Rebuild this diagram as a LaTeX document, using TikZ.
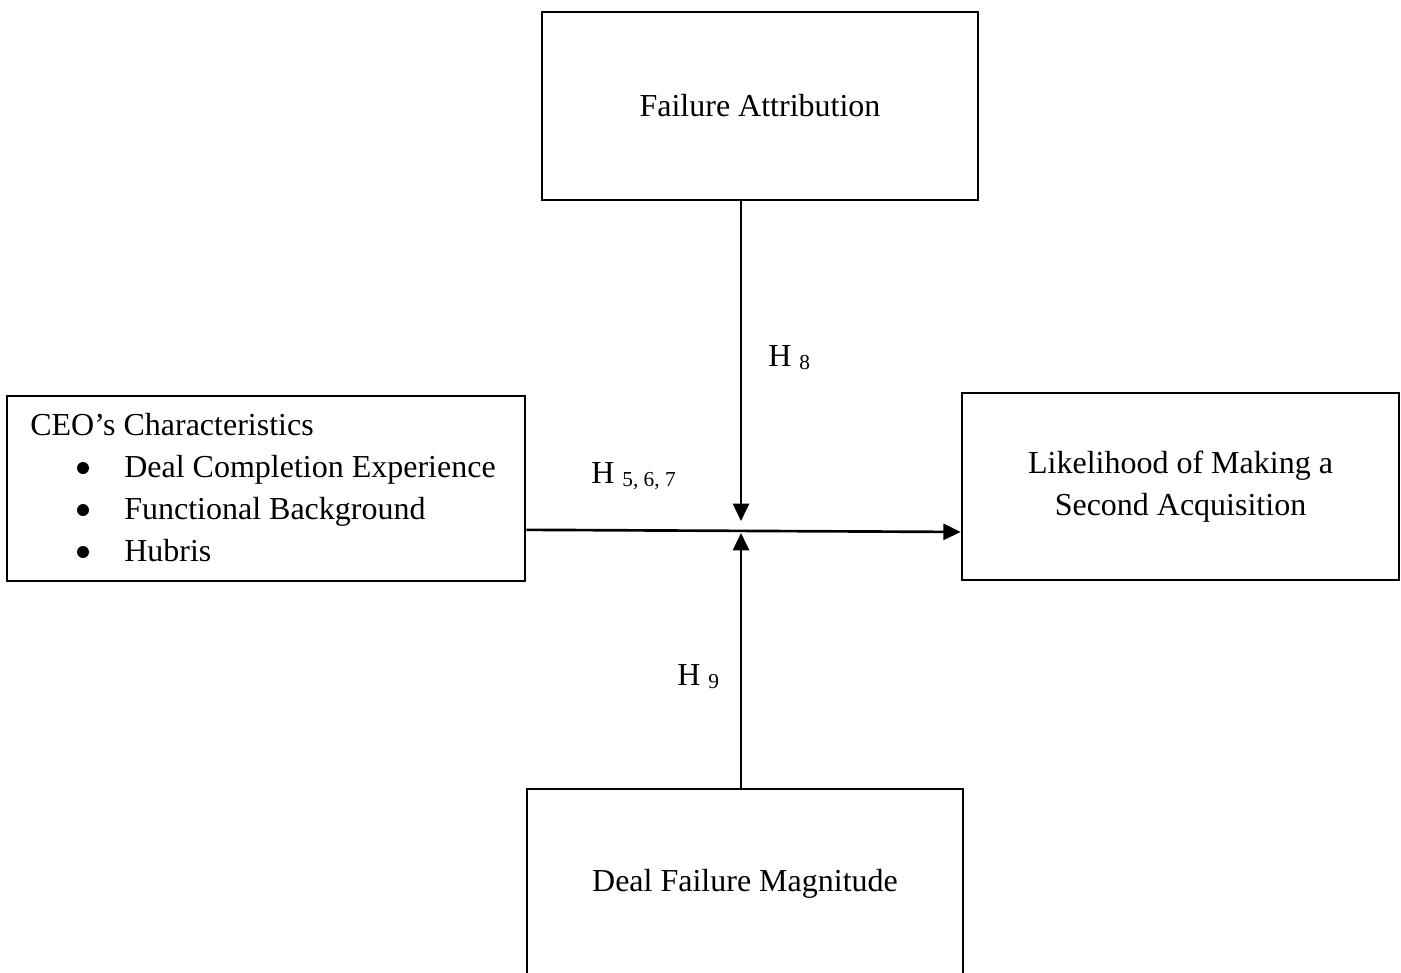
\documentclass[tikz,border=0pt]{standalone}
\usepackage{fontspec}
\setmainfont{Liberation Serif}
\usetikzlibrary{arrows.meta}
\newcommand\diagfont{\fontsize{24pt}{31pt}\selectfont}
\newcommand\hsub[1]{{\fontsize{16pt}{16pt}\selectfont\raisebox{-2.4pt}{#1}}}
\begin{document}
\begin{tikzpicture}[x=0.75pt,y=-0.75pt,
  box/.style={draw, line width=1.9pt, inner sep=0pt, align=center, font=\diagfont},
  arr/.style={line width=2pt, -{Triangle[length=13pt,width=12pt]}},
  txt/.style={anchor=base west, inner sep=0pt, font=\diagfont},
  dot/.style={circle, fill, inner sep=0pt, minimum size=9pt},
  hyp/.style={anchor=base west, inner sep=0pt, font=\diagfont}]
  \useasboundingbox (0,0) rectangle (1401,973);
  \clip (0,0) rectangle (1401,973);

  % boxes
  \node[box, minimum width=327pt, minimum height=141pt] (attr) at (760,106) {Failure Attribution};
  \node[box, minimum width=388.5pt, minimum height=138.75pt] (ceo) at (266,488.5) {};
  \node[box, minimum width=327.75pt, minimum height=140.25pt] (lik) at (1180.5,486.5)
    {Likelihood of Making a\\Second Acquisition};
  \node[box, minimum width=327pt, minimum height=141.75pt] (mag) at (745,883.5) {Deal Failure Magnitude};

  % CEO characteristics list
  \node[txt] (ceotitle) at (30,435) {CEO’s Characteristics};
  \node[dot] (b1) at (83,468) {};
  \node[dot] (b2) at (83,510) {};
  \node[dot] (b3) at (83,552) {};
  \node[txt] (i1) at (124,477) {Deal Completion Experience};
  \node[txt] (i2) at (124,519) {Functional Background};
  \node[txt] (i3) at (124,561) {Hubris};

  % meeting points of the moderating arrows
  \coordinate (mt) at (741,521);
  \coordinate (mb) at (741,533);

  % connectors
  \draw[arr] (attr.south -| mt) -- (mt);
  \draw[arr] (mag.north -| mb) -- (mb);
  \draw[arr] ([yshift=-31pt]ceo.east) -- ([yshift=-34.1pt]lik.west);

  % hypothesis labels
  \node[hyp] (h8) at (768,366) {H \hsub{8}};
  \node[hyp] (h567) at (591,483) {H \hsub{5, 6, 7}};
  \node[hyp] (h9) at (677,685) {H \hsub{9}};
\end{tikzpicture}
\end{document}
